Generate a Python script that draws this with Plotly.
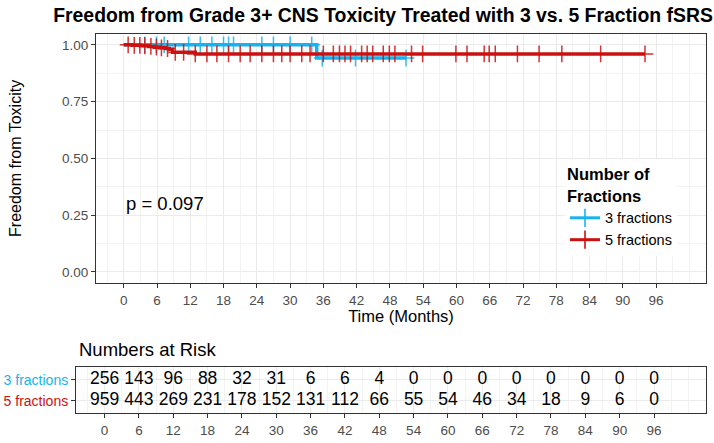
import plotly.graph_objects as go
import numpy as np

W, H = 714, 443

# ---------------- data ----------------
three_time = [0, 34.8, 51.0]
three_surv = [1.0, 0.942, 0.942]
five_time = [0, 1.5, 3.0, 4.5, 5.5, 6.5, 7.5, 8.2, 8.8, 12.9, 94.0]
five_surv = [1.0, 0.998, 0.996, 0.993, 0.990, 0.987, 0.984, 0.981, 0.967, 0.960, 0.960]

three_censor = [3.8, 5.9, 7.3, 11.7, 13.8, 15.9, 18.0, 18.9, 19.8, 24.9, 27.0, 30.0,
                33.9, 35.8, 41.8, 50.9]
five_censor = [0.8, 1.9, 2.9, 3.8, 4.9, 5.9, 6.8, 7.9, 9.3, 10.8, 12.9, 15.0, 16.8,
               18.9, 21.0, 22.8, 24.9, 27.0, 28.5, 30.0, 32.1, 33.6, 36.0, 37.8, 38.9,
               39.9, 40.9, 42.9, 43.9, 44.9, 46.8, 47.9, 48.9, 51.9, 53.9, 59.9, 61.9,
               65.0, 65.9, 67.0, 71.0, 74.9, 79.0, 86.0, 94.0]

risk_times = [0, 6, 12, 18, 24, 30, 36, 42, 48, 54, 60, 66, 72, 78, 84, 90, 96]
risk_three = [256, 143, 96, 88, 32, 31, 6, 6, 4, 0, 0, 0, 0, 0, 0, 0, 0]
risk_five = [959, 443, 269, 231, 178, 152, 131, 112, 66, 55, 54, 46, 34, 18, 9, 6, 0]

group_names = ["3 fractions", "5 fractions"]
y_ticks = [0, 0.25, 0.5, 0.75, 1.0]

# ---------------- style ----------------
BLUE = "#17B3EE"
RED = "#CC1111"
FONT = "Liberation Sans, Arial, sans-serif"
GRID = "#EBEBEB"
MINOR = "#F3F3F3"
BORDER = "#333333"
TICKC = "#4D4D4D"


def step_at(times, surv, pts):
    t = np.asarray(times)
    s = np.asarray(surv)
    idx = np.searchsorted(t, np.asarray(pts), side="right") - 1
    return s[np.clip(idx, 0, len(s) - 1)]


fig = go.Figure()

for name, t, s, c, col in [
    (group_names[0], three_time, three_surv, three_censor, BLUE),
    (group_names[1], five_time, five_surv, five_censor, RED),
]:
    fig.add_trace(go.Scatter(x=t, y=s, mode="lines", line=dict(shape="hv", color=col, width=3.5),
                             showlegend=False, hoverinfo="skip", xaxis="x", yaxis="y"))
    fig.add_trace(go.Scatter(x=c, y=step_at(t, s, c), mode="markers",
                             marker=dict(symbol="cross-thin", size=12, color=col,
                                         line=dict(color=col, width=1.5)),
                             opacity=0.85, showlegend=False, xaxis="x", yaxis="y"))
    fig.add_trace(go.Scatter(x=[None], y=[None], mode="lines+markers", name=name,
                             line=dict(color=col, width=3),
                             marker=dict(symbol="cross-thin", size=13, color=col,
                                         line=dict(color=col, width=1.6)),
                             xaxis="x", yaxis="y"))

# risk table
fig.add_trace(go.Scatter(
    x=risk_times + risk_times,
    y=[2] * len(risk_times) + [1] * len(risk_times),
    text=[str(v) for v in risk_three + risk_five],
    mode="text", textposition="middle center",
    textfont=dict(family=FONT, size=17.5, color="black"),
    showlegend=False, xaxis="x2", yaxis="y2"))

tickvals_x = risk_times

common_axis = dict(showline=True, mirror=True, linecolor=BORDER, linewidth=1,
                   ticks="outside", ticklen=4, tickcolor=BORDER, tickwidth=1,
                   zeroline=False, showgrid=True, gridcolor=GRID, gridwidth=1,
                   tickfont=dict(family=FONT, size=13.5, color=TICKC))

fig.update_layout(
    width=W, height=H, autosize=False,
    margin=dict(l=0, r=0, t=0, b=0),
    paper_bgcolor="white", plot_bgcolor="white",
    font=dict(family=FONT, color="black"),
    title=dict(text="Freedom from Grade 3+ CNS Toxicity Treated with 3 vs. 5 Fraction fSRS",
               x=383 / W, xanchor="center", y=1 - 15 / H, yanchor="middle",
               font=dict(family=FONT, size=19.4, color="black", weight="bold")),
    xaxis=dict(domain=[96 / W, 706 / W], range=[-5, 105], tickmode="array",
               tickvals=tickvals_x,
               minor=dict(tickmode="linear", tick0=0, dtick=3, showgrid=True,
                          gridcolor=MINOR, ticklen=0),
               title=dict(text="Time (Months)", standoff=3,
                          font=dict(family=FONT, size=16.5, color="black")),
               anchor="y", **common_axis),
    yaxis=dict(domain=[1 - 283.3 / H, 1 - 33.5 / H], range=[-0.05, 1.05],
               tickmode="array", tickvals=y_ticks, tickformat=".2f",
               minor=dict(tickmode="linear", tick0=0, dtick=0.125, showgrid=True,
                          gridcolor=MINOR, ticklen=0),
               title=dict(text="Freedom from Toxicity", standoff=36,
                          font=dict(family=FONT, size=16, color="black")),
               anchor="x", **common_axis),
    xaxis2=dict(domain=[76 / W, 705.5 / W], range=[-5, 105], tickmode="array",
                tickvals=tickvals_x,
                minor=dict(tickmode="linear", tick0=0, dtick=3, showgrid=True,
                           gridcolor=MINOR, ticklen=0),
                anchor="y2", **common_axis),
    yaxis2=dict(domain=[1 - 413.3 / H, 1 - 367 / H], range=[0.4, 2.6],
                tickmode="array", tickvals=[2, 1],
                ticktext=[f"<span style='color:{BLUE}'>{group_names[0]}</span>",
                          f"<span style='color:{RED}'>{group_names[1]}</span>"],
                anchor="x2", **{**common_axis,
                                "tickfont": dict(family=FONT, size=14, color="black")}),
    legend=dict(x=565 / W, xanchor="left", y=1 - 159 / H, yanchor="top",
                bgcolor="white", borderwidth=0,
                title=dict(text="Number of<br>Fractions",
                           font=dict(family=FONT, size=16.5, color="black", weight="bold")),
                font=dict(family=FONT, size=14.5, color="black"),
                itemwidth=30, tracegroupgap=0),
    annotations=[
        dict(text="p = 0.097", x=0, y=0.30, xref="x", yref="y", xanchor="left",
             yanchor="middle", showarrow=False,
             font=dict(family=FONT, size=18.5, color="black")),
        dict(text="Numbers at Risk", x=77 / W, y=1 - 349 / H, xref="paper", yref="paper",
             xanchor="left", yanchor="middle", showarrow=False,
             font=dict(family=FONT, size=18.5, color="black")),
    ],
)

fig.write_html("out.html")
